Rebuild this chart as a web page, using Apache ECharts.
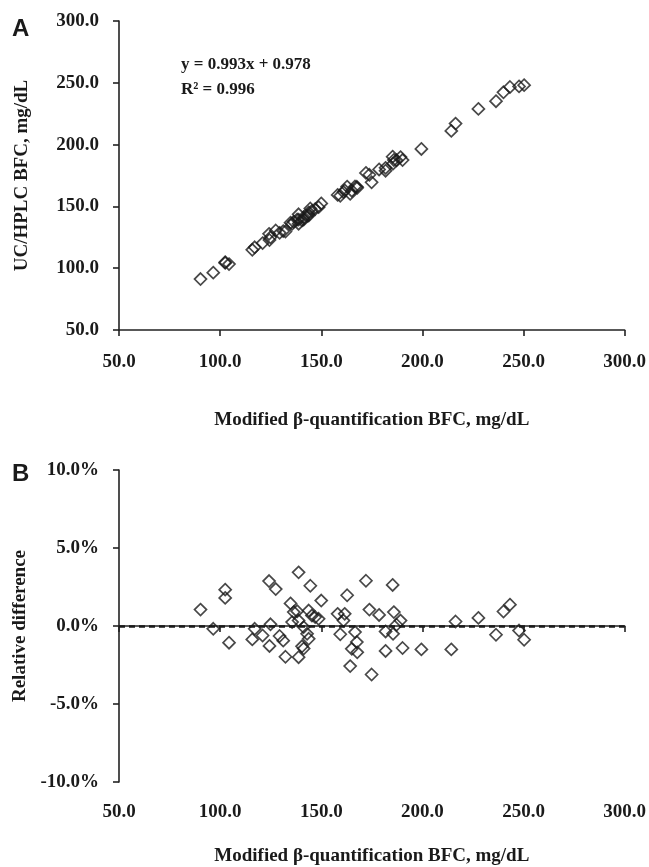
<!DOCTYPE html>
<html><head><meta charset="utf-8">
<script src="https://cdn.jsdelivr.net/npm/echarts@6/dist/echarts.min.js"></script>
<style>html,body{margin:0;padding:0;background:#fff}#c{width:649px;height:867px}</style>
</head><body><div id="c"></div>
<script>
// Modified beta-quantification BFC (mg/dL)
const refValues = [90.3,96.6,102.5,102.5,104.4,115.9,117.1,121.0,124.2,127.5,124.9,124.4,129.4,131.2,132.3,134.8,136.4,138.1,135.6,138.8,138.8,141.3,143.0,143.8,140.5,141.3,138.8,144.6,143.8,145.4,147.0,148.7,150.0,158.1,161.6,161.0,162.8,159.4,166.7,167.6,165.1,167.8,164.3,172.1,173.8,174.9,178.6,181.8,181.8,185.3,185.9,185.5,187.2,189.2,190.2,199.5,214.3,216.4,227.7,236.4,240.1,243.3,247.8,250.3];
// UC/HPLC BFC (mg/dL)
const ucValues = [91.2,96.4,104.9,104.3,103.3,114.9,116.9,120.3,127.8,130.5,125.0,122.8,128.6,130.0,129.7,136.8,137.6,139.4,135.9,139.3,143.6,141.2,142.3,142.6,138.7,139.3,136.0,148.3,145.2,146.4,147.8,149.4,152.4,159.3,162.9,161.6,166.0,158.6,166.1,165.9,162.7,165.0,160.1,177.1,175.6,169.5,179.9,181.2,178.9,190.2,187.6,184.6,187.3,189.9,187.5,196.5,211.1,217.0,228.9,235.1,242.3,246.6,247.1,248.1];
// Relative difference (%)
const relDiff = [1.05,-0.18,2.33,1.80,-1.07,-0.86,-0.18,-0.61,2.88,2.37,0.11,-1.28,-0.64,-0.94,-1.97,1.45,0.89,0.95,0.25,0.35,3.44,-0.07,-0.50,-0.82,-1.30,-1.45,-2.0,2.58,0.99,0.67,0.57,0.46,1.63,0.78,0.78,0.35,1.97,-0.53,-0.39,-1.03,-1.46,-1.69,-2.57,2.90,1.05,-3.11,0.71,-0.35,-1.60,2.63,0.89,-0.50,0.08,0.35,-1.41,-1.50,-1.50,0.29,0.52,-0.56,0.93,1.37,-0.29,-0.88];
const xTicks = [50,300,50];
const yTicksA = [50,300,50];
const yTicksB = [-10,10,5];
const eqText = ['y = 0.993x + 0.978','R² = 0.996'];

const serif = 'Liberation Serif';
const lab = {fontFamily: serif, fontWeight: 'bold', fontSize: 19, color: '#1a1a1a'};
const axLine = {lineStyle: {color: '#222', width: 1.6}};
const tick = {inside: false, length: 6, lineStyle: {color: '#222', width: 1.6}};
const nameStyle = {fontFamily: serif, fontWeight: 'bold', fontSize: 19, color: '#1a1a1a'};

const chart = echarts.init(document.getElementById('c'));
const mk = {symbol: 'diamond', symbolSize: 12, itemStyle: {color: 'rgba(0,0,0,0)', borderColor: '#1a1a1a', borderWidth: 1.7}};
chart.setOption({
  animation: false,
  grid: [
    {left: 119, top: 21, width: 507, height: 309},
    {left: 119, top: 470, width: 507, height: 313}
  ],
  xAxis: [0,1].map(i => ({
    gridIndex: i, type: 'value', min: xTicks[0], max: xTicks[1], interval: xTicks[2],
    axisLine: axLine, axisTick: tick, splitLine: {show: false},
    axisLabel: Object.assign({margin: i === 0 ? 23 : 21, formatter: v => v.toFixed(1)}, lab),
    name: 'Modified β-quantification BFC, mg/dL', nameLocation: 'middle', nameGap: i === 0 ? 81 : 65,
    nameTextStyle: nameStyle
  })),
  yAxis: [
    {gridIndex: 0, type: 'value', min: yTicksA[0], max: yTicksA[1], interval: yTicksA[2],
     axisLine: axLine, axisTick: tick, splitLine: {show: false},
     axisLabel: Object.assign({margin: 20, formatter: v => v.toFixed(1)}, lab),
     name: 'UC/HPLC BFC, mg/dL', nameLocation: 'middle', nameGap: 87, nameTextStyle: nameStyle},
    {gridIndex: 1, type: 'value', min: yTicksB[0], max: yTicksB[1], interval: yTicksB[2],
     axisLine: axLine, axisTick: tick, splitLine: {show: false},
     axisLabel: Object.assign({margin: 20, formatter: v => v.toFixed(1) + '%'}, lab),
     name: 'Relative difference', nameLocation: 'middle', nameGap: 87, nameTextStyle: nameStyle}
  ],
  series: [
    Object.assign({type: 'scatter', xAxisIndex: 0, yAxisIndex: 0,
      data: refValues.map((x, i) => [x, ucValues[i]])}, mk),
    Object.assign({type: 'scatter', xAxisIndex: 1, yAxisIndex: 1,
      data: refValues.map((x, i) => [x, relDiff[i]]),
      markLine: {silent: true, symbol: 'none', label: {show: false},
        lineStyle: {type: [6, 4], color: '#1a1a1a', width: 2.5},
        data: [{yAxis: 0}]}}, mk)
  ],
  graphic: [
    {type: 'text', left: 12, top: 17, style: {text: 'A', font: 'bold 24px "Liberation Sans"', fill: '#1a1a1a'}},
    {type: 'text', left: 12, top: 462, style: {text: 'B', font: 'bold 24px "Liberation Sans"', fill: '#1a1a1a'}},
    {type: 'text', left: 181, top: 56, style: {text: eqText[0], font: 'bold 17px "Liberation Serif"', fill: '#1a1a1a'}},
    {type: 'text', left: 181, top: 81, style: {text: eqText[1], font: 'bold 17px "Liberation Serif"', fill: '#1a1a1a'}}
  ]
});
</script></body></html>
